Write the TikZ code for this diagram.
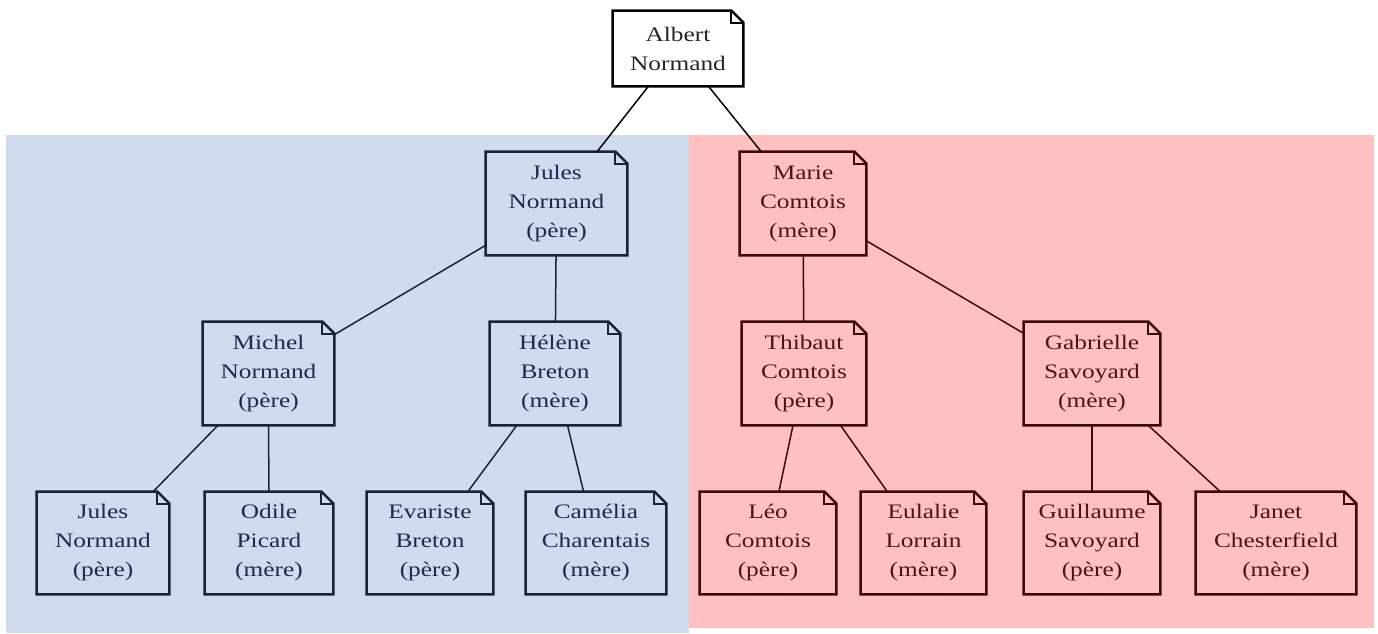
\documentclass[tikz,border=0pt]{standalone}
\usepackage{fontspec}
\setmainfont{Liberation Serif}[FakeStretch=1.23]
\definecolor{bluebg}{HTML}{D0DCEE}
\definecolor{redbg}{HTML}{FFC0C0}
\definecolor{bluetext}{HTML}{1E2850}
\definecolor{blueframe}{HTML}{1A2233}
\definecolor{redtext}{HTML}{4E1414}
\definecolor{redframe}{HTML}{3D0A0A}
\tikzset{
  note/.style={inner sep=0pt, align=center, minimum height=51.5pt,
    font=\fontsize{10.3}{14.5}\selectfont},
  bluenote/.style={note, text=bluetext},
  rednote/.style={note, text=redtext},
  topnote/.style={note, text=black!85, minimum height=37.5pt},
  frame/.style={line width=1.25pt, line join=miter},
  fold/.style={line width=1pt, line join=miter},
  link/.style={line width=0.75pt},
}
\newcommand{\noteframe}[2]{%
  \draw[frame,draw=#2] (#1.north west) -- ([xshift=-6pt]#1.north east) -- ([yshift=-6pt]#1.north east) -- (#1.south east) -- (#1.south west) -- cycle;
  \draw[fold,draw=#2] ([xshift=-6pt]#1.north east) -- ([xshift=-6pt,yshift=-6pt]#1.north east) -- ([yshift=-6pt]#1.north east);
}
\begin{document}
\begin{tikzpicture}[x=0.5pt,y=-0.5pt]
\useasboundingbox (0,0) rectangle (1378,633);
\fill[bluebg] (6,135) rectangle (689,633);
\fill[redbg] (689,135) rectangle (1374,628);

\node[topnote, minimum width=65pt] (albert) at (678,48.5) {Albert\\Normand};

\node[bluenote, minimum width=70.5pt] (julesA) at (556.5,203.5) {Jules\\Normand\\(père)};
\node[bluenote, minimum width=65.5pt] (michel) at (268.5,373.5) {Michel\\Normand\\(père)};
\node[bluenote, minimum width=65pt] (helene) at (555,373.5) {Hélène\\Breton\\(mère)};
\node[bluenote, minimum width=66pt, minimum height=51pt] (julesB) at (103,543) {Jules\\Normand\\(père)};
\node[bluenote, minimum width=64pt, minimum height=51pt] (odile) at (269,543) {Odile\\Picard\\(mère)};
\node[bluenote, minimum width=63pt, minimum height=51pt] (evariste) at (430,543) {Evariste\\Breton\\(père)};
\node[bluenote, minimum width=70pt, minimum height=51pt] (camelia) at (596,543) {Camélia\\Charentais\\(mère)};

\node[rednote, minimum width=63pt] (marie) at (803,203.5) {Marie\\Comtois\\(mère)};
\node[rednote, minimum width=62pt] (thibaut) at (804,373.5) {Thibaut\\Comtois\\(père)};
\node[rednote, minimum width=68pt] (gabrielle) at (1092,373.5) {Gabrielle\\Savoyard\\(mère)};
\node[rednote, minimum width=68pt, minimum height=51pt] (leo) at (768,543) {Léo\\Comtois\\(père)};
\node[rednote, minimum width=62.5pt, minimum height=51pt] (eulalie) at (923.5,543) {Eulalie\\Lorrain\\(mère)};
\node[rednote, minimum width=68pt, minimum height=51pt] (guillaume) at (1092,543) {Guillaume\\Savoyard\\(père)};
\node[rednote, minimum width=80pt, minimum height=51pt] (janet) at (1276,543) {Janet\\Chesterfield\\(mère)};

\noteframe{albert}{black}
\foreach \n in {julesA,michel,helene,julesB,odile,evariste,camelia}{\noteframe{\n}{blueframe}}
\foreach \n in {marie,thibaut,gabrielle,leo,eulalie,guillaume,janet}{\noteframe{\n}{redframe}}

\draw[link, black] (albert) -- (julesA);
\draw[link, black] (albert) -- (marie);
\draw[link, blueframe] (julesA) -- (michel);
\draw[link, blueframe] (julesA) -- (helene);
\draw[link, blueframe] (michel) -- (julesB);
\draw[link, blueframe] (michel) -- (odile);
\draw[link, blueframe] (helene) -- (evariste);
\draw[link, blueframe] (helene) -- (camelia);
\draw[link, redframe] (marie) -- (thibaut);
\draw[link, redframe] (marie) -- (gabrielle);
\draw[link, redframe] (thibaut) -- (leo);
\draw[link, redframe] (thibaut) -- (eulalie);
\draw[link, redframe] (gabrielle) -- (guillaume);
\draw[link, redframe] (gabrielle) -- (janet);
\end{tikzpicture}
\end{document}
